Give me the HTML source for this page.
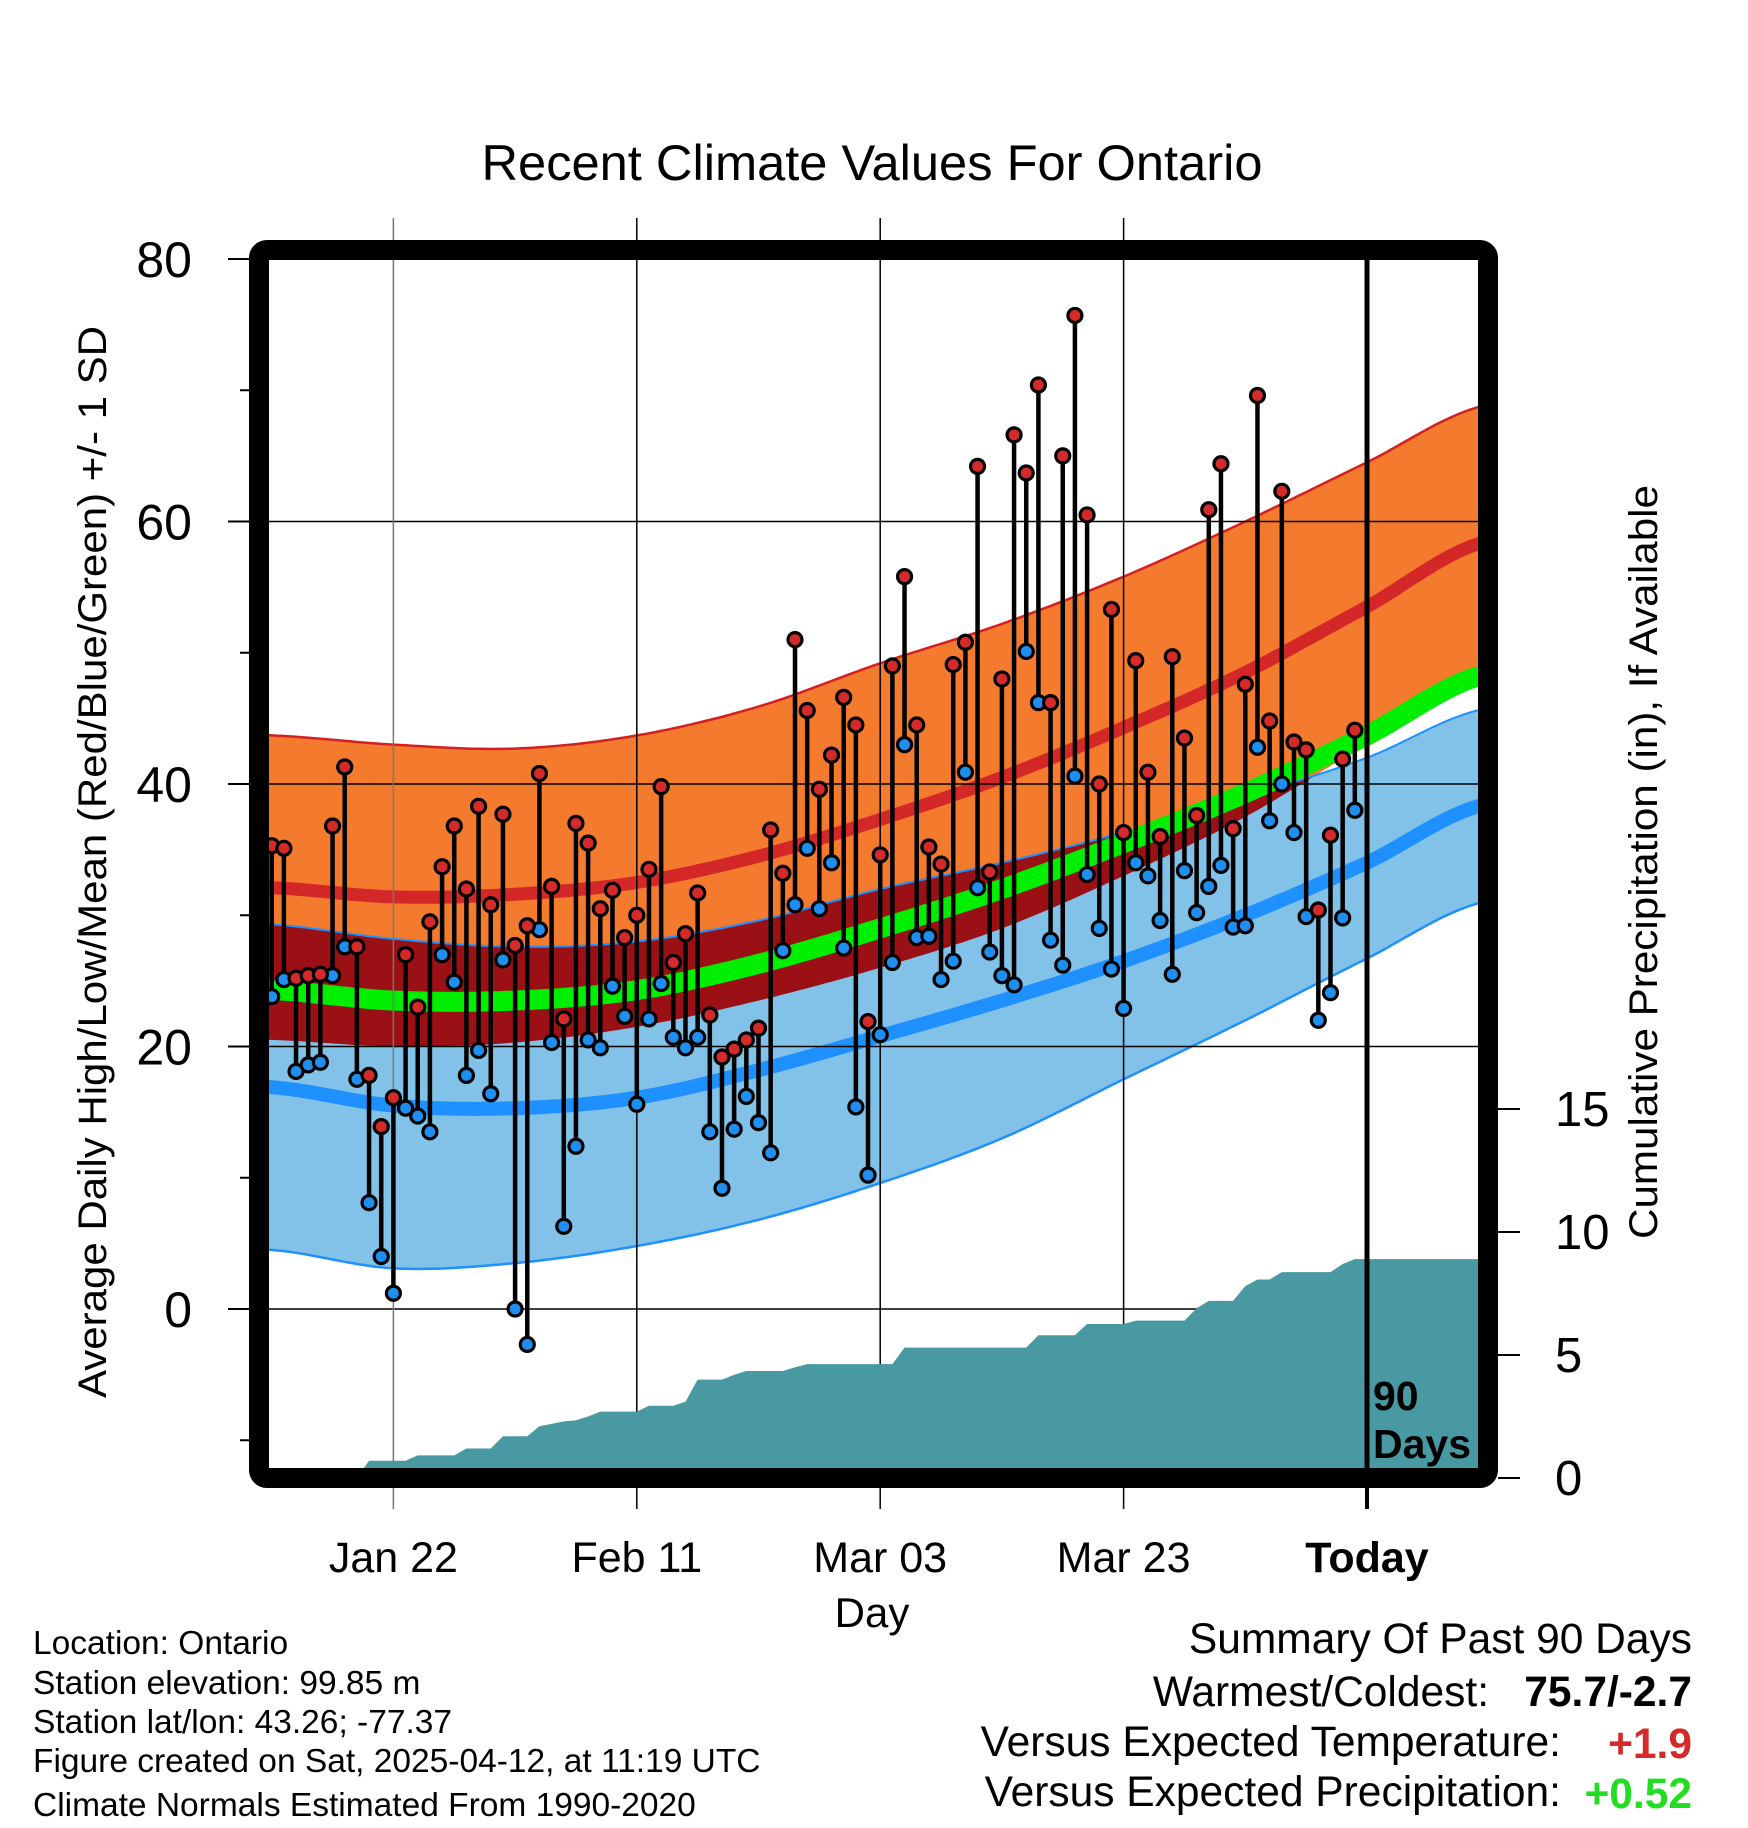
<!DOCTYPE html>
<html><head><meta charset="utf-8"><style>
html,body{margin:0;padding:0;background:#fff;}
svg{display:block;font-family:"Liberation Sans",Arial,sans-serif;}
</style></head><body>
<svg id="chart" width="1748" height="1828" viewBox="0 0 1748 1828" xmlns="http://www.w3.org/2000/svg">
<defs><clipPath id="plotclip"><rect x="269" y="260" width="1209" height="1208"/></clipPath></defs>
<rect width="1748" height="1828" fill="#fff"/>
<text x="872" y="180" font-size="50" text-anchor="middle" textLength="781" lengthAdjust="spacingAndGlyphs">Recent Climate Values For Ontario</text>
<g id="bands" clip-path="url(#plotclip)"></g>
<g id="grid"></g>
<g id="precip" clip-path="url(#plotclip)"></g>
<g id="marks" clip-path="url(#plotclip)"></g>
<g id="axes"></g>
<text transform="translate(106,862) rotate(-90)" font-size="40" text-anchor="middle" textLength="1072" lengthAdjust="spacingAndGlyphs">Average Daily High/Low/Mean (Red/Blue/Green) +/- 1 SD</text>
<text transform="translate(1657,862) rotate(-90)" font-size="40" text-anchor="middle" textLength="754" lengthAdjust="spacingAndGlyphs">Cumulative Precipitation (in), If Available</text>
<text x="872" y="1627" font-size="42" text-anchor="middle">Day</text>
<text x="1373" y="1410" font-size="41" font-weight="bold">90</text>
<text x="1373" y="1458" font-size="41" font-weight="bold">Days</text>
<g font-size="33.5">
<text x="33" y="1654">Location: Ontario</text>
<text x="33" y="1694">Station elevation: 99.85 m</text>
<text x="33" y="1733">Station lat/lon: 43.26; -77.37</text>
<text x="33" y="1772">Figure created on Sat, 2025-04-12, at 11:19 UTC</text>
<text x="33" y="1816">Climate Normals Estimated From 1990-2020</text>
</g>
<g font-size="42.5">
<text x="1692" y="1653" text-anchor="end">Summary Of Past 90 Days</text>
<text x="1489" y="1706" text-anchor="end">Warmest/Coldest:</text>
<text x="1692" y="1706" text-anchor="end" font-weight="bold">75.7/-2.7</text>
<text x="1561" y="1756" text-anchor="end">Versus Expected Temperature:</text>
<text x="1692" y="1758" text-anchor="end" font-weight="bold" fill="#d42a2a">+1.9</text>
<text x="1561" y="1806" text-anchor="end">Versus Expected Precipitation:</text>
<text x="1692" y="1808" text-anchor="end" font-weight="bold" fill="#22dd22">+0.52</text>
</g>
</svg>
<script>
// ---- data ----
var highs = [35.3,35.1,25.2,25.4,25.5,36.8,41.3,27.6,17.8,13.9,16.1,27.0,23.0,29.5,33.7,36.8,32.0,38.3,30.8,37.7,27.7,29.2,40.8,32.2,22.1,37.0,35.5,30.5,31.9,28.3,30.0,33.5,39.8,26.4,28.6,31.7,22.4,19.2,19.8,20.5,21.4,36.5,33.2,51.0,45.6,39.6,42.2,46.6,44.5,21.9,34.6,49.0,55.8,44.5,35.2,33.9,49.1,50.8,64.2,33.3,48.0,66.6,63.7,70.4,46.2,65.0,75.7,60.5,40.0,53.3,36.3,49.4,40.9,36.0,49.7,43.5,37.6,60.9,64.4,36.6,47.6,69.6,44.8,62.3,43.2,42.6,30.4,36.1,41.9,44.1];
var lows = [23.8,25.1,18.1,18.6,18.8,25.4,27.6,17.5,8.1,4.0,1.2,15.3,14.7,13.5,27.0,24.9,17.8,19.7,16.4,26.6,0.0,-2.7,28.9,20.3,6.3,12.4,20.5,19.9,24.6,22.3,15.6,22.1,24.8,20.7,19.9,20.7,13.5,9.2,13.7,16.2,14.2,11.9,27.3,30.8,35.1,30.5,34.0,27.5,15.4,10.2,20.9,26.4,43.0,28.3,28.4,25.1,26.5,40.9,32.1,27.2,25.4,24.7,50.1,46.2,28.1,26.2,40.6,33.1,29.0,25.9,22.9,34.0,33.0,29.6,25.5,33.4,30.2,32.2,33.8,29.1,29.2,42.8,37.2,40.0,36.3,29.9,22.0,24.1,29.8,38.0];
var precip = [0,0,0,0,0,0,0,0,0.7,0.7,0.7,0.7,0.92,0.92,0.92,0.92,1.2,1.2,1.2,1.7,1.7,1.7,2.1,2.2,2.3,2.35,2.5,2.7,2.7,2.7,2.7,2.94,2.94,2.94,3.1,4.0,4.0,4.0,4.2,4.35,4.35,4.35,4.35,4.5,4.63,4.63,4.63,4.63,4.63,4.63,4.63,4.63,5.3,5.3,5.3,5.3,5.3,5.3,5.3,5.3,5.3,5.3,5.3,5.8,5.8,5.8,5.8,6.26,6.26,6.26,6.26,6.4,6.4,6.4,6.4,6.4,6.9,7.2,7.2,7.2,7.8,8.07,8.07,8.37,8.37,8.37,8.37,8.37,8.7,8.9];
var normDays = [0,10,20,30,40,50,60,70,80,90,99.5];
var highPlusSD = [43.7,43.0,42.7,43.7,45.9,49.2,52.2,55.8,60.0,64.5,68.8];
var highMean = [32.1,31.4,31.6,32.5,34.5,37.3,40.5,44.3,48.5,53.5,58.4];
var highMinusSD = [20.5,20.0,20.3,21.5,23.5,26.0,29.0,33.0,37.5,43.0,47.8];
var lowPlusSD = [29.3,28.2,27.6,28.0,29.6,32.0,34.0,36.3,39.0,42.0,45.7];
var lowMean = [16.9,15.5,15.3,16.1,18.2,20.8,23.5,26.5,30.0,34.0,38.4];
var lowMinusSD = [4.5,3.1,3.5,4.8,6.8,9.6,13.0,17.5,22.0,26.7,31.0];
var meanTemp = [24.3,23.5,23.5,24.3,26.3,29.0,32.0,35.5,39.3,43.7,48.3];
var xTickDays = [10,30,50,70,90];
var xTickLabels = ["Jan 22","Feb 11","Mar 03","Mar 23","Today"];
var yTicks = [0,20,40,60,80];
var yMinor = [-10,10,30,50,70];
var pTicks = [0,5,10,15];

// ---- scales ----
function X(d){ return 271.7 + d*12.17; }
function Y(v){ return 1309 - v*13.125; }
function YP(p){ return 1478 - p*24.6; }
var NS="http://www.w3.org/2000/svg";
function mk(tag, attrs, parent){ var e=document.createElementNS(NS,tag); for(var k in attrs) e.setAttribute(k,attrs[k]); parent.appendChild(e); return e; }
function interp(arr, d){
  var n=normDays.length, i=0;
  if(d<=normDays[0]) { i=0; } else if(d>=normDays[n-1]) { i=n-2; } else { while(normDays[i+1]<d) i++; }
  var t=(d-normDays[i])/(normDays[i+1]-normDays[i]);
  var p0=arr[Math.max(i-1,0)], p1=arr[i], p2=arr[i+1], p3=arr[Math.min(i+2,n-1)];
  var t2=t*t, t3=t2*t;
  return 0.5*((2*p1)+(-p0+p2)*t+(2*p0-5*p1+4*p2-p3)*t2+(-p0+3*p1-3*p2+p3)*t3);
}
var samples=[]; for(var d=-0.5; d<=99.6; d+=0.5) samples.push(d);
function linePts(arr){ return samples.map(function(d){ return X(d).toFixed(1)+","+Y(interp(arr,d)).toFixed(1); }); }
function bandPath(top,bot){ var a=linePts(top), b=linePts(bot).reverse(); return "M"+a.join("L")+"L"+b.join("L")+"Z"; }

var bands=document.getElementById('bands');
var e;
e=mk('path',{d:bandPath(highPlusSD,highMinusSD),fill:'#f47a2e'},bands);
 
e=mk('path',{d:bandPath(lowPlusSD,lowMinusSD),fill:'#82c1e8'},bands);
 
var ov=samples.map(function(d){ var t=interp(lowPlusSD,d), b=interp(highMinusSD,d); return [d, Math.max(t,b), b]; });
var od="M"+ov.map(function(o){return X(o[0]).toFixed(1)+","+Y(o[1]).toFixed(1);}).join("L")+"L"+ov.slice().reverse().map(function(o){return X(o[0]).toFixed(1)+","+Y(o[2]).toFixed(1);}).join("L")+"Z";
e=mk('path',{d:od,fill:'#9a1014'},bands);
 
function drawLine(arr,color,w,name){ var l=mk('polyline',{points:linePts(arr).join(" "),fill:'none',stroke:color,'stroke-width':w},bands);   }
drawLine(highPlusSD,'#d42020',2.5,'high-plus-sd-edge');
drawLine(lowPlusSD,'#1e90ff',2,'low-plus-sd-edge');
drawLine(lowMinusSD,'#1e90ff',2.5,'low-minus-sd-edge');
drawLine(highMean,'#d42828',13,'high-mean-line');
drawLine(lowMean,'#1e90ff',14,'low-mean-line');
drawLine(meanTemp,'#00ee00',20,'mean-temp-line');

// grid
var grid=document.getElementById('grid');
yTicks.forEach(function(v){ if(v===80) return; var g=mk('line',{x1:269,x2:1478,y1:Y(v),y2:Y(v),stroke:'#000','stroke-width':1.5},grid);   });
xTickDays.forEach(function(d,i){ if(i===4) return; var g=mk('line',{x1:X(d),x2:X(d),y1:218,y2:1509,stroke:i===0?'#777':'#000','stroke-width':1.5},grid);   });

// precip
var pg=document.getElementById('precip');
var pd="M"+X(0)+","+YP(0);
precip.forEach(function(p,i){ pd+="L"+X(i).toFixed(1)+","+YP(p).toFixed(1); });
pd+="L1480,"+YP(precip[precip.length-1]).toFixed(1)+"L1480,"+YP(0)+"Z";
e=mk('path',{d:pd,fill:'#4899a2'},pg);
 

// marks
var mg=document.getElementById('marks');
highs.forEach(function(h,i){
  var s=mk('line',{x1:X(i),x2:X(i),y1:Y(h),y2:Y(lows[i]),stroke:'#000','stroke-width':4.5},mg);
   
});
lows.forEach(function(l,i){
  var c=mk('circle',{cx:X(i),cy:Y(l),r:7,fill:'#1e8ff0',stroke:'#000','stroke-width':3.2},mg);
   
});
highs.forEach(function(h,i){
  var c=mk('circle',{cx:X(i),cy:Y(h),r:7,fill:'#d42a2a',stroke:'#000','stroke-width':3.2},mg);
   
});
var tl=mk('line',{x1:X(90),x2:X(90),y1:260,y2:1509,stroke:'#000','stroke-width':5},mg);
 

// axes
var ax=document.getElementById('axes');
var tl2=mk('line',{x1:X(90),x2:X(90),y1:1468,y2:1509,stroke:'#000','stroke-width':4},ax);
 
var fr=mk('rect',{x:259,y:250,width:1229,height:1228,rx:8,fill:'none',stroke:'#000','stroke-width':20},ax);
 
yTicks.forEach(function(v){
  var t=mk('line',{x1:228,x2:250,y1:Y(v),y2:Y(v),stroke:'#000','stroke-width':2},ax);
   
  var lb=mk('text',{x:192,y:Y(v)+18,'font-size':50,'text-anchor':'end'},ax); lb.textContent=String(v);
   
});
yMinor.forEach(function(v){
  var t=mk('line',{x1:240,x2:250,y1:Y(v),y2:Y(v),stroke:'#000','stroke-width':2},ax);
   
});
pTicks.forEach(function(p){
  var t=mk('line',{x1:1498,x2:1520,y1:YP(p),y2:YP(p),stroke:'#000','stroke-width':2},ax);
   
  var lb=mk('text',{x:1555,y:YP(p)+17,'font-size':49},ax); lb.textContent=String(p);
   
});
xTickDays.forEach(function(d,i){
  var lb=mk('text',{x:X(d),y:1572,'font-size':43,'text-anchor':'middle','font-weight':i===4?'bold':'normal'},ax);
  lb.textContent=xTickLabels[i];
   
});
</script>
</body></html>
